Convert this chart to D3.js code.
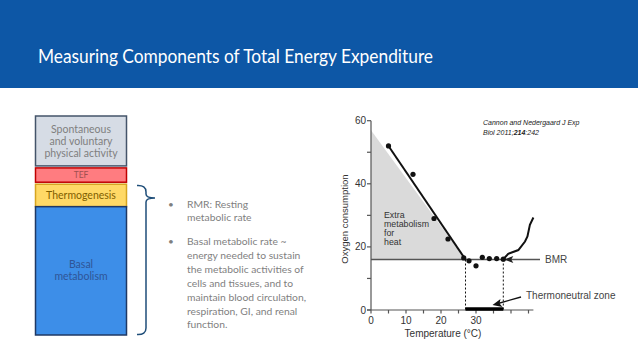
<!DOCTYPE html>
<html><head><meta charset="utf-8">
<script src="https://cdn.jsdelivr.net/npm/d3@7"></script>
<style>
html,body{margin:0;padding:0;background:#fff;}
svg{display:block;}
</style></head>
<body>
<svg id="c" width="638" height="359"></svg>
<script>
// ---- data ----
const titleText = "Measuring Components of Total Energy Expenditure";
const stackNames = [["Spontaneous","and voluntary","physical activity"],["TEF"],["Thermogenesis"],["Basal","metabolism"]];
const stackShares = [49, 16, 24, 126];
const bulletLines = [["RMR: Resting","metabolic rate"],["Basal metabolic rate ~","energy needed to sustain","the metabolic activities of","cells and tissues, and to","maintain blood circulation,","respiration, GI, and renal","function."]];
const tempMajorTicks = [0,10,20,30];
const tempMinorTicks = [0,5,10,15,20,25,30,35,40,45];
const oxyMajorTicks = [0,20,40,60];
const oxyMinorTicks = [10,30,50];
const pointTemp = [5,12,18,22,26.5,28,30,31.8,33.8,35.9,37.8];
const pointOxy  = [52,43,29,22.5,16.5,15.6,14,16.7,16.3,16.3,16.1];
const coldLineTemp = [5,27];
const coldLineOxy = [52,16];
const shadeTemp = [0,27,0];
const shadeOxy = [57,16,16];
const warmTemp = [37.8,39.2,42.1,44,44.7,45.4,46.4];
const warmOxy  = [16.1,17.8,19,21.7,23.3,27,29.3];
const bmrValue = 16;
const lowerCritical = 27;
const upperCritical = 37.8;
const shadeLabel = ["Extra","metabolism","for","heat"];
const citation = ["Cannon and Nedergaard J Exp","Biol 2011;","214",":242"];

const svg = d3.select("#c");

// header
svg.append("rect").attr("x",0).attr("y",0).attr("width",638).attr("height",88).attr("fill","#0d57a6");
svg.append("text").attr("x",38).attr("y",63).text(titleText)
  .attr("font-family","Lato, 'Open Sans', sans-serif").attr("font-size",18.5).attr("fill","#fff")
  .attr("textLength",395).attr("lengthAdjust","spacingAndGlyphs");

// stacked column
const stackFill = ["#d6dce5","#ff7c80","#ffd966","#3d8ee8"];
const stackStroke = ["#44546a","#c00000","#d6a520","#1f3864"];
const stackText = ["#7f7f7f","#a05050","#7f6000","#2f5597"];
const ys = d3.scaleLinear().domain([0, d3.sum(stackShares)]).range([116, 335]);
let acc = 0;
const gaps = [0,2,2,0];
stackShares.forEach((v,i)=>{
  const y0 = ys(acc) + gaps[i], y1 = ys(acc+v);
  acc += v;
  svg.append("rect").attr("x",35.5).attr("y",y0).attr("width",91).attr("height",y1-y0)
    .attr("fill",stackFill[i]).attr("stroke",stackStroke[i]).attr("stroke-width",1.5);
  const lines = stackNames[i];
  const fs = i===1 ? 8.5 : 10.5;
  const lh = 12;
  const cy = i===3 ? 270 : (y0+y1)/2;
  lines.forEach((t,j)=>{
    svg.append("text").attr("x",81).attr("y",cy + (j-(lines.length-1)/2)*lh + fs*0.35)
      .attr("text-anchor","middle").attr("font-family","Lato, sans-serif").attr("font-size",fs)
      .attr("fill",stackText[i]).text(t);
  });
});

// bracket
svg.append("path").attr("d","M137,185.5 Q146,185 146,192 L146,194 Q146,198 155,198 Q146,198 146,202 L146,328 Q146,335 137,334.5")
  .attr("fill","none").attr("stroke","#1f4e79").attr("stroke-width",1.5);

// bullets
const bulletStarts = [207.5, 245];
bulletLines.forEach((ls,i)=>{
  svg.append("text").attr("x",168).attr("y",bulletStarts[i]).text("•")
    .attr("font-family","Lato, sans-serif").attr("font-size",10).attr("fill","#7f7f7f");
  ls.forEach((t,j)=>{
    svg.append("text").attr("x",187).attr("y",bulletStarts[i]+j*(i===0?13:13.9)).text(t)
      .attr("font-family","Lato, sans-serif").attr("font-size",10.3).attr("fill","#7f7f7f");
  });
});

// chart
const x = d3.scaleLinear().domain([0,30]).range([371,476]);
const y = d3.scaleLinear().domain([0,60]).range([310,120.7]);
const font = "'Liberation Sans', Arial, sans-serif";
const ax = "#555";

// shading
svg.append("path").attr("d", d3.line()(shadeTemp.map((t,i)=>[x(t),y(shadeOxy[i])])) + "Z")
  .attr("fill","#dadada");

// y axis
svg.append("line").attr("x1",x(0)).attr("x2",x(0)).attr("y1",y(0)).attr("y2",y(60)).attr("stroke",ax).attr("stroke-width",1.2);
oxyMajorTicks.concat(oxyMinorTicks).forEach(v=>{
  svg.append("line").attr("x1",x(0)-4).attr("x2",x(0)).attr("y1",y(v)).attr("y2",y(v)).attr("stroke",ax).attr("stroke-width",1.2);
});
oxyMajorTicks.forEach(v=>{
  svg.append("text").attr("x",x(0)-5).attr("y",y(v)+3.5).attr("text-anchor","end")
    .attr("font-family",font).attr("font-size",10).attr("fill","#333").text(v);
});
svg.append("text").attr("transform",`translate(348,219) rotate(-90)`).attr("text-anchor","middle")
  .attr("font-family",font).attr("font-size",9.5).attr("fill","#333").text("Oxygen consumption");

// x axis
svg.append("line").attr("x1",x(0)-4).attr("x2",x(46.4)).attr("y1",y(0)).attr("y2",y(0)).attr("stroke",ax).attr("stroke-width",1.2);
tempMinorTicks.forEach(v=>{
  svg.append("line").attr("x1",x(v)).attr("x2",x(v)).attr("y1",y(0)).attr("y2",y(0)+3.5).attr("stroke",ax).attr("stroke-width",1.2);
});
tempMajorTicks.forEach(v=>{
  svg.append("text").attr("x",x(v)).attr("y",y(0)+14).attr("text-anchor","middle")
    .attr("font-family",font).attr("font-size",10).attr("fill","#333").text(v);
});
svg.append("text").attr("x",443).attr("y",337).attr("text-anchor","middle")
  .attr("font-family",font).attr("font-size",10).attr("fill","#333").text("Temperature (°C)");

// BMR line
svg.append("line").attr("x1",x(0)).attr("x2",540).attr("y1",y(bmrValue)).attr("y2",y(bmrValue)).attr("stroke","#555").attr("stroke-width",1.4);
svg.append("path").attr("d",`M${x(upperCritical)+1},${y(bmrValue)} l9,-3.5 l-2,3.5 l2,3.5 Z`).attr("fill","#222");
svg.append("text").attr("x",545).attr("y",y(bmrValue)+3.5).attr("font-family",font).attr("font-size",10).attr("fill","#444").text("BMR");

// critical temperature dotted lines
[lowerCritical, upperCritical].forEach(t=>{
  svg.append("line").attr("x1",x(t)).attr("x2",x(t)).attr("y1",y(bmrValue)).attr("y2",y(0))
    .attr("stroke","#111").attr("stroke-width",1).attr("stroke-dasharray","2,2");
});
// thermoneutral bar
svg.append("line").attr("x1",x(lowerCritical)).attr("x2",x(upperCritical)).attr("y1",y(0)-1).attr("y2",y(0)-1)
  .attr("stroke","#000").attr("stroke-width",3.5);
svg.append("line").attr("x1",521).attr("y1",297).attr("x2",498).attr("y2",303.5).attr("stroke","#111").attr("stroke-width",1.3);
svg.append("path").attr("d","M492.5,305 l8,-6 l-1,4.5 l3,3.5 Z").attr("fill","#111");
svg.append("text").attr("x",526).attr("y",299).attr("font-family",font).attr("font-size",10).attr("fill","#444").text("Thermoneutral zone");

// lines
svg.append("path").attr("d", d3.line()(coldLineTemp.map((t,i)=>[x(t),y(coldLineOxy[i])])))
  .attr("fill","none").attr("stroke","#111").attr("stroke-width",2);
svg.append("path").attr("d", d3.line()(warmTemp.map((t,i)=>[x(t),y(warmOxy[i])])))
  .attr("fill","none").attr("stroke","#111").attr("stroke-width",2);

// points
pointTemp.forEach((t,i)=>{
  svg.append("circle").attr("cx",x(t)).attr("cy",y(pointOxy[i])).attr("r",2.6).attr("fill","#111");
});

// label inside shading
shadeLabel.forEach((t,i)=>{
  svg.append("text").attr("x",384).attr("y",218+i*9).attr("font-family",font).attr("font-size",8.8).attr("fill","#333").text(t);
});

// citation
const cit = svg.append("text").attr("font-family",font).attr("font-size",7).attr("font-style","italic").attr("fill","#222");
cit.append("tspan").attr("x",483).attr("y",125).text(citation[0]);
cit.append("tspan").attr("x",483).attr("y",135).text(citation[1]);
cit.append("tspan").attr("font-weight","bold").text(citation[2]);
cit.append("tspan").text(citation[3]);
</script>
</body></html>
